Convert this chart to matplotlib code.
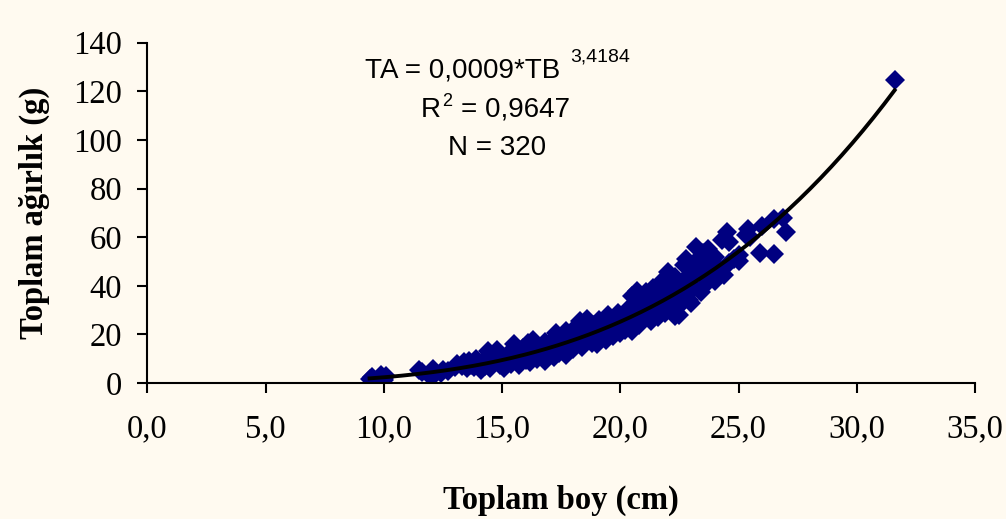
import numpy as np
import matplotlib
matplotlib.use("Agg")
import matplotlib.pyplot as plt

# toplam boy (cm) ve toplam agirlik (g)
boy_cm = [9.4, 9.5, 9.9, 10.0, 10.1,
          11.5, 11.6, 12.0, 12.1, 12.2, 12.4, 12.5, 12.7,
          13.0, 13.1, 13.3, 13.4, 13.5, 13.6, 13.7, 13.9, 13.8, 14.0,
          14.1, 14.2, 14.4, 14.3, 14.5, 14.5, 14.6, 14.7, 14.8, 14.8, 14.9, 15.0,
          15.1, 15.2, 15.3, 15.4, 15.5, 15.5, 15.6, 15.7, 15.8, 15.9, 16.0, 16.0,
          16.1, 16.2, 16.3, 16.3, 16.4, 16.5, 16.6, 16.7, 16.8, 16.8, 16.9, 17.0, 17.0,
          17.1, 17.2, 17.3, 17.3, 17.4, 17.5, 17.6, 17.7, 17.7, 17.8, 17.9, 18.0, 18.0,
          18.1, 18.2, 18.3, 18.4, 18.4, 18.5, 18.6, 18.6, 18.7, 18.8, 18.9, 19.0, 19.0,
          19.1, 19.2, 19.3, 19.4, 19.5, 19.5, 19.6, 19.7, 19.8, 19.9, 19.9, 20.0, 20.0,
          20.1, 20.2, 20.3, 20.4, 20.5, 20.5, 20.6, 20.6, 20.7, 20.8, 20.8, 20.9, 21.0, 21.0,
          21.1, 21.2, 21.3, 21.3, 21.4, 21.5, 21.6, 21.6, 21.7, 21.8, 21.9, 21.9, 22.0, 22.0, 22.0,
          22.1, 22.1, 22.2, 22.3, 22.3, 22.4, 22.5, 22.5, 22.6, 22.7, 22.8, 22.8, 22.9, 22.9, 23.0, 23.0,
          23.1, 23.2, 23.2, 23.3, 23.4, 23.5, 23.6, 23.6, 23.7, 23.8, 23.9, 24.0, 24.0,
          24.2, 24.3, 24.4, 24.5, 24.6, 24.6, 24.8, 25.0, 25.0,
          25.3, 25.4, 25.5, 25.9, 26.0, 26.5, 26.5, 26.9, 27.0,
          31.6]
agirlik_g = [1.8, 2.5, 3.3, 1.2, 2.8,
             5.3, 4.5, 2.5, 5.8, 4.0, 4.2, 5.3, 4.8,
             6.5, 8.0, 7.0, 8.6, 6.0, 9.2, 7.5, 10.0, 6.5, 8.0,
             5.3, 9.0, 13.0, 7.0, 6.0, 10.5, 8.5, 12.0, 9.5, 13.5, 7.5, 11.0,
             6.0, 9.0, 12.5, 8.0, 16.0, 10.5, 13.0, 7.5, 11.5, 14.5, 9.5, 12.5,
             16.5, 8.5, 11.0, 17.5, 13.5, 10.0, 15.0, 12.0, 9.0, 17.0, 14.0, 11.5, 16.0,
             13.5, 10.5, 20.5, 15.5, 12.5, 18.0, 14.0, 21.5, 11.5, 16.5, 19.0, 14.0, 22.0,
             17.0, 19.5, 25.5, 15.0, 21.0, 23.0, 18.0, 26.5, 20.0, 16.5, 24.0, 16.0, 21.5,
             26.0, 19.0, 23.5, 17.5, 28.0, 21.0, 25.0, 19.5, 27.0, 22.0, 29.0, 20.5, 24.5,
             27.0, 22.0, 30.0, 25.0, 36.0, 21.5, 32.0, 27.5, 38.0, 24.0, 30.5, 35.0, 26.5, 31.5,
             37.5, 28.5, 33.5, 25.5, 39.0, 30.0, 35.5, 27.0, 41.0, 32.5, 29.0, 37.0, 45.5, 31.0, 35.0,
             30.5, 40.0, 34.0, 27.5, 43.5, 37.0, 28.0, 41.0, 33.0, 48.5, 51.0, 36.0, 34.0, 44.5, 33.0, 47.0,
             39.5, 56.0, 45.5, 51.0, 37.5, 53.5, 46.0, 40.5, 55.0, 49.5, 44.0, 52.0, 42.0,
             47.0, 59.0, 44.5, 62.0, 49.5, 58.0, 51.0, 50.0, 52.5,
             61.0, 63.5, 60.0, 53.5, 64.5, 53.0, 67.5, 68.0, 62.0,
             124.5]

# trend line given on the chart: TA = 0,0009*TB^3,4184
katsayi_a = 0.0009
us_b = 3.4184

bg = '#FFFAF0'
fig = plt.figure(figsize=(10.06, 5.19), dpi=100, facecolor=bg)
ax = fig.add_axes([0.1464, 0.262, 0.8228, 0.6557], facecolor=bg)

ax.plot(boy_cm, agirlik_g, linestyle='none', marker='D', ms=10,
        color='#000080', mew=0, zorder=2)

tb = np.linspace(min(boy_cm), max(boy_cm), 200)
ax.plot(tb, katsayi_a * tb ** us_b, color='black', lw=2.8, zorder=3)

ax.set_xlim(0, 35)
ax.set_ylim(0, 140)
ax.set_xticks(np.arange(0, 36, 5))
ax.set_xticklabels([f'{v:.1f}'.replace('.', ',') for v in np.arange(0, 36, 5)])
ax.set_yticks(np.arange(0, 141, 20))

for s in ['top', 'right']:
    ax.spines[s].set_visible(False)
for s in ['left', 'bottom']:
    ax.spines[s].set_linewidth(1.5)

serif = 'Liberation Serif'
ax.tick_params(axis='both', direction='out', length=7, width=1.5, labelsize=23.5)
ax.tick_params(axis='x', pad=15)
ax.tick_params(axis='y', pad=11)
for lab in ax.get_xticklabels() + ax.get_yticklabels():
    lab.set_fontfamily(serif)

ax.set_xlabel('Toplam boy (cm)', fontfamily=serif, fontweight='bold', fontsize=23.5)
ax.set_ylabel('Toplam ağırlık (g)', fontfamily=serif, fontweight='bold', fontsize=23.5)
ax.xaxis.set_label_coords(0.5, -0.344)
ax.xaxis.label.set_va('center')
ax.yaxis.set_label_coords(-0.136, 0.5)
ax.yaxis.label.set_va('center')

sans = 'Liberation Sans'
fig.text(0.5567, 0.8516, 'TA = 0,0009*TB', ha='right', va='baseline',
         fontsize=20, fontfamily=sans)
fig.text(0.5666, 0.881, '3,4184', ha='left', va='baseline',
         fontsize=14, fontfamily=sans)
fig.text(0.418, 0.7746, 'R', ha='left', va='baseline',
         fontsize=20, fontfamily=sans)
fig.text(0.4395, 0.795, '2', ha='left', va='baseline',
         fontsize=13, fontfamily=sans)
fig.text(0.5667, 0.7746, '= 0,9647', ha='right', va='baseline',
         fontsize=20, fontfamily=sans)
fig.text(0.494, 0.7013, 'N = 320', ha='center', va='baseline',
         fontsize=20, fontfamily=sans)

fig.savefig('out.png', dpi=100, facecolor=bg)
